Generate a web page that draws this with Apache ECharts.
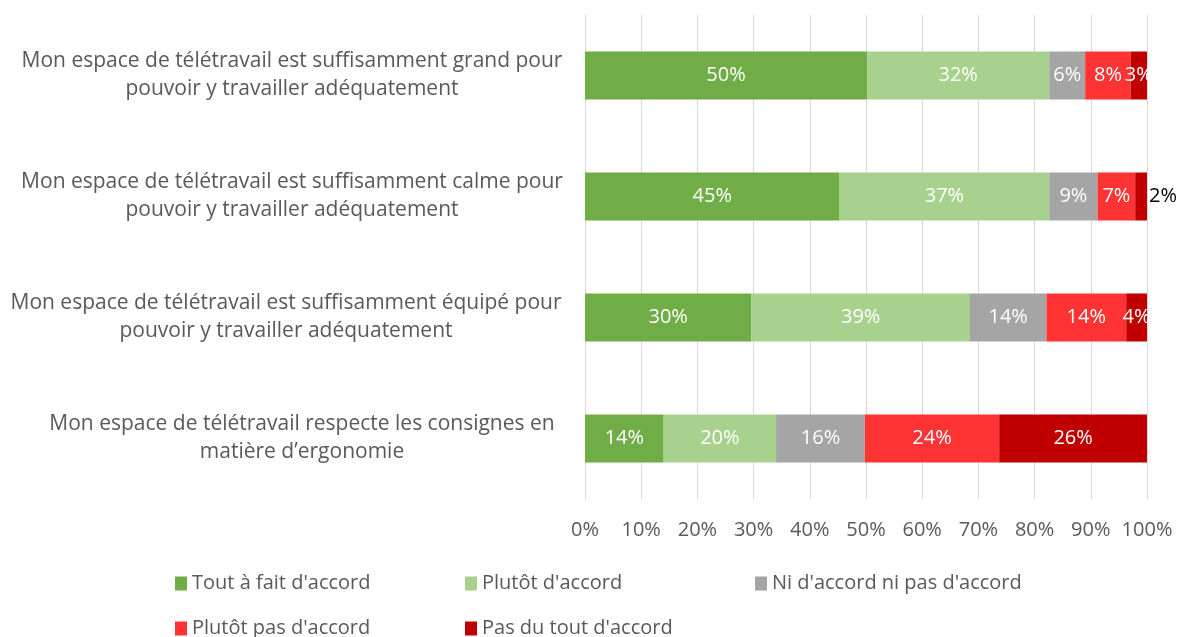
<!DOCTYPE html>
<html>
<head>
<meta charset="utf-8">
<script src="https://cdn.jsdelivr.net/npm/echarts@6/dist/echarts.min.js"></script>
<style>
  html, body { margin: 0; padding: 0; background: #ffffff; }
  #chart { width: 1183px; height: 637px; }
</style>
</head>
<body>
<div id="chart"></div>
<script>
"use strict";

// categories, top to bottom as shown
const statements = [
    "Mon espace de télétravail est suffisamment grand pour\npouvoir y travailler adéquatement",
    "Mon espace de télétravail est suffisamment calme pour\npouvoir y travailler adéquatement",
    "Mon espace de télétravail est suffisamment équipé pour\npouvoir y travailler adéquatement",
    "Mon espace de télétravail respecte les consignes en\nmatière d’ergonomie"
];

const answerNames = [
    "Tout à fait d'accord",
    "Plutôt d'accord",
    "Ni d'accord ni pas d'accord",
    "Plutôt pas d'accord",
    "Pas du tout d'accord"
];

// shares in %, same order as statements
const toutAFait   = [50.2, 45.3, 29.6, 14.0];
const plutot      = [32.4, 37.3, 38.9, 20.0];
const niNi        = [6.4, 8.6, 13.6, 15.8];
const plutotPas   = [8.1, 6.7, 14.2, 23.9];
const pasDuTout   = [2.9, 2.1, 3.7, 26.3];

const axisTicks = [0, 10, 20, 30, 40, 50, 60, 70, 80, 90, 100];

const palette = ["#70AD47", "#A9D18E", "#A5A5A5", "#FF3333", "#C00000"];
const FONT = "Open Sans";
const TEXT = "#595959";

const seriesValues = [toutAFait, plutot, niNi, plutotPas, pasDuTout];

function buildSeries(){
    return seriesValues.map((values, i) => ({
        name: answerNames[i],
        type: "bar",
        stack: "total",
        barWidth: 48,
        itemStyle: { color: palette[i] },
        label: {
            show: true,
            position: "inside",
            color: "#ffffff",
            fontFamily: FONT,
            fontSize: 20,
            formatter: p => Math.round(p.value) + "%"
        },
        data: values.map(v => {
            // the tiny 2% slice is labelled outside, in black
            if(i === 4 && v < 2.5){
                return { value: v, label: { position: "right", distance: 2, color: "#000000" } };
            }
            return v;
        })
    }));
}

const chart = echarts.init(document.getElementById("chart"), null, { renderer: "canvas" });

chart.setOption({
    animation: false,
    backgroundColor: "#ffffff",
    grid: { left: 585, right: 36, top: 15, bottom: 138, containLabel: false },
    legend: {
        data: answerNames,
        left: 170,
        top: 566,
        width: 900,
        orient: "horizontal",
        itemWidth: 12,
        itemHeight: 14,
        itemGap: 20,
        icon: "rect",
        textStyle: { fontFamily: FONT, fontSize: 20, color: TEXT, width: 253, lineHeight: 25 }
    },
    xAxis: {
        type: "value",
        min: axisTicks[0],
        max: axisTicks[axisTicks.length - 1],
        interval: axisTicks[1] - axisTicks[0],
        axisLine: { show: false },
        axisTick: { show: false },
        splitLine: { show: true, lineStyle: { color: "#D9D9D9", width: 1 } },
        axisLabel: {
            color: TEXT,
            fontFamily: FONT,
            fontSize: 20,
            margin: 21,
            formatter: v => v + "%"
        }
    },
    yAxis: {
        type: "category",
        inverse: true,
        data: statements,
        axisLine: { show: true, lineStyle: { color: "#D9D9D9" } },
        axisTick: { show: false },
        axisLabel: {
            color: TEXT,
            fontFamily: FONT,
            fontSize: 21,
            lineHeight: 28,
            align: "center",
            margin: 293,
            formatter: (v, idx) => {
                const key = ["a", "a", "b", "c"][idx];
                return v.split("\n").map(l => "{" + key + "|" + l + "}").join("\n");
            },
            rich: {
                a: { fontFamily: FONT, fontSize: 21, lineHeight: 28, color: TEXT },
                b: { fontFamily: FONT, fontSize: 21, lineHeight: 28, color: TEXT, padding: [0, 12, 0, 0] },
                c: { fontFamily: FONT, fontSize: 21, lineHeight: 28, color: TEXT, padding: [0, 0, 0, 20] }
            }
        }
    },
    series: buildSeries()
});

window.addEventListener("resize", () => chart.resize());
</script>
</body>
</html>
